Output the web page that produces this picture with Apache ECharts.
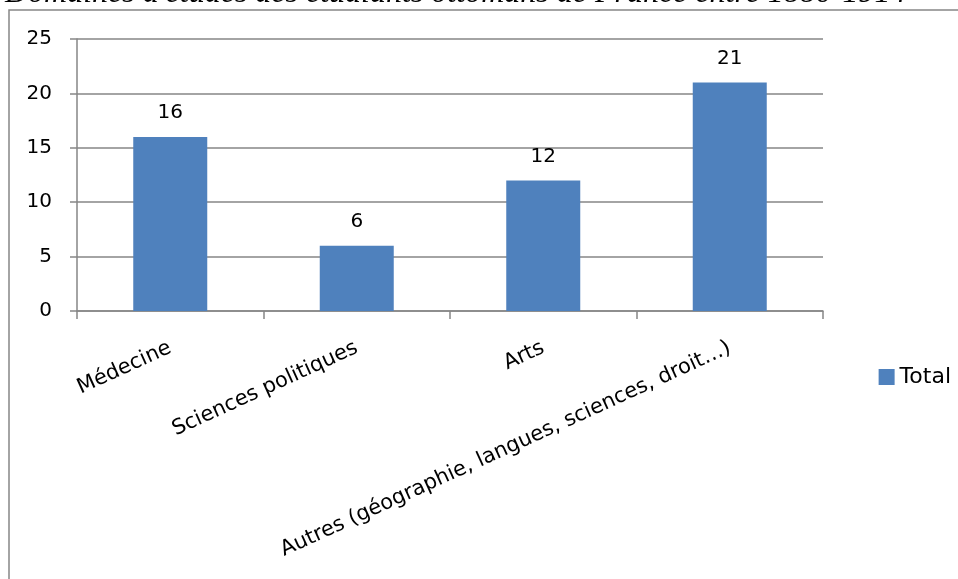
<!DOCTYPE html>
<html>
<head>
<meta charset="utf-8">
<script src="https://cdn.jsdelivr.net/npm/echarts@6/dist/echarts.min.js"></script>
<style>
html,body{margin:0;padding:0;background:#fff;}
#chart{width:958px;height:579px;}
</style>
</head>
<body>
<div id="chart"></div>
<script>
const titleText = "Domaines d'études des étudiants ottomans de France entre 1880-1914";
const categories = ["Médecine", "Sciences politiques", "Arts", "Autres (géographie, langues, sciences, droit…)"];
const totals = [16, 6, 12, 21];
const seriesName = "Total";
const yTicks = { min: 0, max: 25, interval: 5 };

const FONT = "'DejaVu Sans', sans-serif";
const chart = echarts.init(document.getElementById('chart'));
chart.setOption({
  animation: false,
  backgroundColor: '#ffffff',
  graphic: [
    { type: 'rect', shape: { x: 9, y: 10, width: 1000, height: 620 }, style: { fill: 'none', stroke: '#868686', lineWidth: 1.5 }, z: 0 },
    { type: 'text', x: 5, y: -22.5, z: 10, style: { text: titleText, font: 'italic 32px "Liberation Serif", serif', fill: '#000', verticalAlign: 'top', align: 'left' } }
  ],
  legend: {
    data: [seriesName], right: 2, top: 361, orient: 'vertical',
    itemWidth: 16, itemHeight: 16, itemGap: 6,
    textStyle: { fontFamily: FONT, fontSize: 22, color: '#000' },
    icon: 'rect'
  },
  grid: { left: 77, right: 135, top: 39, bottom: 268, containLabel: false },
  xAxis: {
    type: 'category', data: categories,
    axisLine: { lineStyle: { color: '#868686', width: 1.5 } },
    axisTick: { show: true, length: 8, lineStyle: { color: '#868686', width: 1.5 } },
    axisLabel: { rotate: 24.5, margin: 36, fontFamily: FONT, fontSize: 21, color: '#000', interval: 0 }
  },
  yAxis: {
    type: 'value', min: yTicks.min, max: yTicks.max, interval: yTicks.interval,
    axisLine: { show: true, lineStyle: { color: '#868686', width: 1.5 } },
    axisTick: { show: true, length: 7, lineStyle: { color: '#868686', width: 1.5 } },
    splitLine: { lineStyle: { color: '#868686', width: 1.5 } },
    axisLabel: { margin: 25, fontFamily: FONT, fontSize: 20, color: '#000' }
  },
  series: [{
    name: seriesName, type: 'bar', data: totals, barWidth: 74,
    itemStyle: { color: '#4F81BD' },
    label: { show: true, position: 'top', distance: 14, fontFamily: FONT, fontSize: 20, color: '#000' }
  }]
});
</script>
</body>
</html>
